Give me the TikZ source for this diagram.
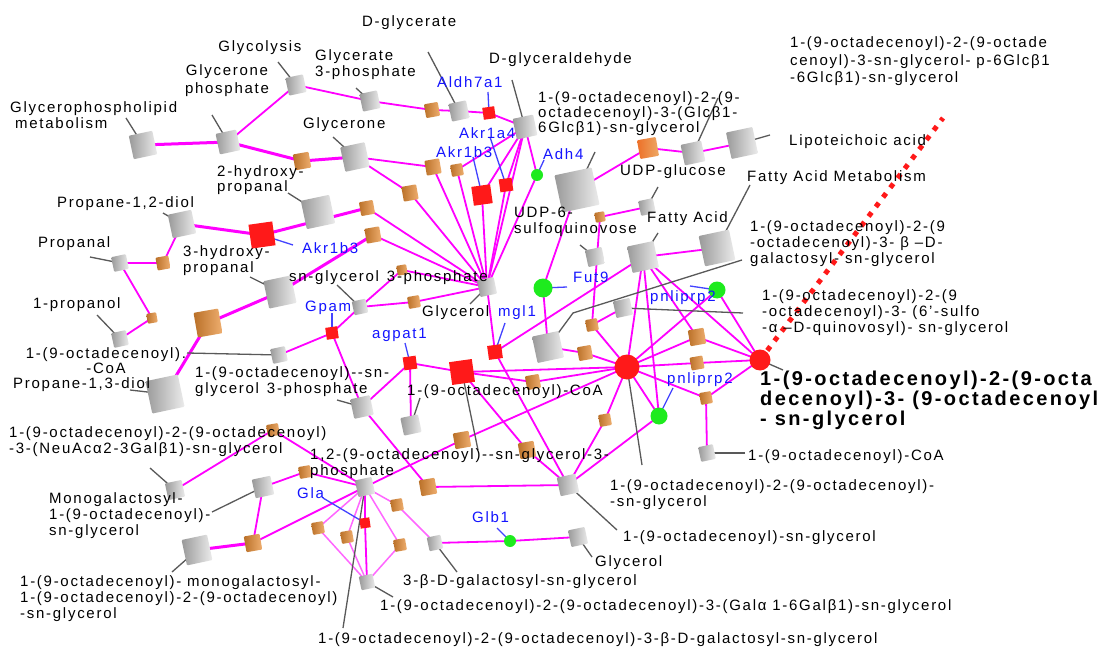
\documentclass[tikz,border=0pt]{standalone}
\usepackage{fontspec}
\setmainfont{Liberation Sans}[LetterSpace=11.5]
\pgfdeclarelayer{bg}
\pgfsetlayers{bg,main}
\definecolor{mag}{RGB}{255,0,255}
\definecolor{orng}{RGB}{232,140,50}
\definecolor{enzred}{RGB}{255,25,25}
\definecolor{enzgreen}{RGB}{30,235,30}
\definecolor{genblue}{RGB}{20,20,255}
\tikzset{
 cmp/.style={rectangle, inner sep=0pt, minimum size=#1pt, rotate=12, left color=gray!80, right color=gray!15, rounded corners=1pt},
 rxn/.style={rectangle, inner sep=0pt, minimum size=#1pt, rotate=10, left color=orng!80!black, right color=orng!70, rounded corners=1pt},
 enzr/.style={rectangle, inner sep=0pt, minimum size=#1pt, fill=enzred, rotate=8},
 enzc/.style={circle, inner sep=0pt, minimum size=#1pt, fill=enzred},
 enzg/.style={circle, inner sep=0pt, minimum size=#1pt, fill=enzgreen},
 lnk/.style={draw=mag, line width=1.8pt},
 lnkT/.style={draw=mag, line width=3pt},
 lnkL/.style={draw=mag!60, line width=1.5pt},
 lead/.style={draw=black!65, line width=1.3pt},
 blead/.style={draw=genblue!80, line width=1.3pt},
 lbl/.style={anchor=west, inner sep=0pt, align=left},
 clbl/.style={anchor=center, inner sep=0pt, align=center},
 blbl/.style={lbl, text=genblue},
 boldlbl/.style={lbl, font=\addfontfeatures{LetterSpace=12}\fontsize{20}{20}\selectfont\bfseries},
}
\begin{document}
\begin{tikzpicture}[x=1pt, y=-1pt, font=\fontsize{15}{16}\selectfont]
\useasboundingbox (0,0) rectangle (1104,650);
% ---------- compounds (gray)
\node[cmp=24] (c1) at (143,145) {};
\node[cmp=21] (c2) at (228,142) {};
\node[cmp=18] (c3) at (296,85) {};
\node[cmp=18] (c4) at (370,101) {};
\node[cmp=18] (c5) at (459,111) {};
\node[cmp=21] (c6) at (525,127) {};
\node[cmp=25] (c7) at (355,157) {};
\node[cmp=29] (c8) at (318,212) {};
\node[cmp=24] (c9) at (182,224) {};
\node[cmp=15] (c10) at (120,263) {};
\node[cmp=15] (c11) at (120,339) {};
\node[cmp=28] (c12) at (280,292) {};
\node[cmp=33] (c13) at (165,394) {};
\node[cmp=15] (c14) at (279,355) {};
\node[cmp=14] (c15) at (360,307) {};
\node[cmp=17] (c16) at (487,287) {};
\node[cmp=20] (c17) at (362,407) {};
\node[cmp=18] (c18) at (411,425) {};
\node[cmp=17] (c19) at (365,487) {};
\node[cmp=14] (c20) at (367,582) {};
\node[cmp=14] (c21) at (435,543) {};
\node[cmp=17] (c22) at (578,537) {};
\node[cmp=19] (c23) at (568,485) {};
\node[cmp=15] (c24) at (707,453) {};
\node[cmp=17] (c26) at (175,490) {};
\node[cmp=19] (c27) at (263,487) {};
\node[cmp=26] (c28) at (197,550) {};
\node[cmp=17] (c29) at (595,257) {};
\node[cmp=27] (c30) at (548,347) {};
\node[cmp=17] (c31) at (623,308) {};
\node[cmp=27] (c32) at (742,143) {};
\node[cmp=21] (c33) at (693,153) {};
\node[cmp=15] (c34) at (647,207) {};
\node[cmp=27] (c35) at (643,257) {};
\node[cmp=31] (c36) at (717,248) {};
\node[cmp=38] (c37) at (577,190) {};
% ---------- reactions (orange)
\node[rxn=16] (o1) at (302,161) {};
\node[rxn=14] (o2) at (432,110) {};
\node[rxn=15] (o3) at (433,167) {};
\node[rxn=12] (o4) at (457,170) {};
\node[rxn=15] (o5) at (410,193) {};
\node[rxn=14] (o6) at (367,208) {};
\node[rxn=15] (o7) at (373,235) {};
\node[rxn=13] (o8) at (163,263) {};
\node[rxn=10] (o9) at (152,318) {};
\node[rxn=25] (o10) at (208,323) {};
\node[rxn=10] (o11) at (402,270) {};
\node[rxn=12] (o12) at (414,302) {};
\node[rxn=14] (o13) at (533,382) {};
\node[rxn=12] (o14) at (592,325) {};
\node[rxn=14] (o15) at (585,353) {};
\node[rxn=16] (o16) at (697,337) {};
\node[rxn=13] (o17) at (697,363) {};
\node[rxn=12] (o18) at (706,398) {};
\node[rxn=12] (o19) at (605,420) {};
\node[rxn=16] (o20) at (462,440) {};
\node[rxn=16] (o21) at (527,450) {};
\node[rxn=16] (o22) at (428,487) {};
\node[rxn=12] (o23) at (397,505) {};
\node[rxn=12] (o24) at (400,545) {};
\node[rxn=12] (o25) at (273,430) {};
\node[rxn=12] (o26) at (305,472) {};
\node[rxn=16] (o27) at (253,543) {};
\node[rxn=12] (o28) at (318,528) {};
\node[rxn=12] (o29) at (347,537) {};
\node[rxn=19, left color=orng!80!red, right color=orng!75] (o35) at (648,148) {};
\node[rxn=10] (o36) at (600,217) {};
% ---------- enzymes
\node[enzr=12] (r1) at (489,113) {};
\node[enzr=19] (r2) at (482,195) {};
\node[enzr=13] (r3) at (506,185) {};
\node[enzr=24] (r4) at (262,235) {};
\node[enzr=12] (r5) at (332,333) {};
\node[enzr=13] (r6) at (410,363) {};
\node[enzr=14] (r7) at (495,352) {};
\node[enzr=23] (r8) at (462,372) {};
\node[enzc=25] (r9) at (627,367) {};
\node[enzr=10] (r10) at (365,523) {};
\node[enzc=21] (r11) at (760,360) {};
\node[enzg=12] (g1) at (537,175) {};
\node[enzg=19] (g2) at (543,288) {};
\node[enzg=17] (g3) at (717,290) {};
\node[enzg=17] (g4) at (659,416) {};
\node[enzg=12] (g5) at (510,541) {};
% ---------- leader start points
\coordinate (k1) at (126,118); \coordinate (k2) at (212,115); \coordinate (k3) at (278,62);
\coordinate (k4) at (356,88); \coordinate (k5) at (428,52); \coordinate (k6) at (512,80);
\coordinate (k7) at (333,137); \coordinate (k8) at (288,193); \coordinate (k9) at (163,213);
\coordinate (k10) at (90,257); \coordinate (k11) at (97,315); \coordinate (k12) at (250,277);
\coordinate (k13) at (130,390); \coordinate (k14) at (187,353); \coordinate (k15) at (337,285);
\coordinate (k16) at (470,304); \coordinate (k17) at (337,400); \coordinate (k18) at (420,398);
\coordinate (k19) at (478,450); \coordinate (k20) at (642,465); \coordinate (k21) at (343,628);
\coordinate (k22) at (393,597); \coordinate (k23) at (457,572); \coordinate (k24) at (592,557);
\coordinate (k25) at (617,530); \coordinate (k26) at (745,453); \coordinate (k27) at (150,468);
\coordinate (k28) at (212,512); \coordinate (k29) at (172,572); \coordinate (k30) at (742,260);
\coordinate (k30b) at (573,313); \coordinate (k31) at (743,313); \coordinate (k32) at (580,245);
\coordinate (k33) at (595,152); \coordinate (k34) at (718,98); \coordinate (k35) at (770,135);
\coordinate (k36) at (750,185); \coordinate (k37) at (658,233); \coordinate (k38) at (658,187);
\coordinate (k39) at (783,370);
\coordinate (b1) at (488,92); \coordinate (b2) at (473,157); \coordinate (b3) at (490,137);
\coordinate (b4) at (544,160); \coordinate (b5) at (293,245); \coordinate (b6) at (332,313);
\coordinate (b7) at (405,343); \coordinate (b8) at (505,323); \coordinate (b9) at (567,287);
\coordinate (b10) at (690,286); \coordinate (b11) at (673,388); \coordinate (b12) at (323,498);
\coordinate (b13) at (497,528);
\coordinate (dotend) at (943,118);
% ---------- connectors
\begin{pgfonlayer}{bg}
\fill[white] (0,0) rectangle (1104,650);
\foreach \a/\b in {c1/c2,c2/o1,o1/c7,c9/r4,r4/o6,c13/o10,o10/c12,c12/o7,o27/c28}
  \draw[lnkT] (\a.center) -- (\b.center);
\foreach \a/\b in {c2/c3,c3/c4,c4/o2,o2/c5,c5/r1,r1/c6,c7/o3,o3/c16,c7/o5,o5/c16,o4/c6,o4/c16,
  c6/r2,r2/c16,c6/r3,r3/c16,c6/g1,g1/c16,c6/c16,o6/c16,o7/c16,c9/o8,o8/c10,c10/o9,o9/c11,
  c14/r5,r5/c15,r5/c17,c15/o11,o11/c16,c15/o12,o12/c16,c16/r7,r7/c35,r7/c23,
  c17/r6,r6/c18,r6/r8,r8/o13,o13/r9,r8/r9,r8/o21,o21/c23,c19/o20,o20/r9,c17/o22,o22/c23,
  c37/g2,g2/c30,c30/o15,o15/r9,c37/o35,o35/c33,c33/c32,o36/c34,o36/o14,o14/c31,o14/r9,
  c35/c36,c35/r9,c35/o16,o16/r11,o16/r9,c35/r11,c35/g4,r9/g3,g3/r11,r9/o17,o17/r11,
  r9/o18,o18/r11,o18/c24,r9/g4,g4/c23,r9/o19,o19/c23,
  c19/o25,o25/c26,c19/o26,o26/c27,c27/o27,o27/c19,c19/r10,r10/c20,c21/g5,g5/c22}
  \draw[lnk] (\a.center) -- (\b.center);
\foreach \a/\b in {c19/o28,o28/c20,c19/o29,o29/c20,c19/o24,o24/c20,c19/o23,o23/c21}
  \draw[lnkL] (\a.center) -- (\b.center);
\foreach \a/\b in {k1/c1,k2/c2,k3/c3,k4/c4,k5/c5,k6/c6,k7/c7,k8/c8,k9/c9,k10/c10,k11/c11,k12/c12,
  k13/c13,k14/c14,k15/c15,k16/c16,k17/c17,k18/c18,k19/r8,k20/r9,k21/c19,k22/c20,k23/c21,
  k24/c22,k25/c23,k26/c24,k27/c26,k28/c27,k29/c28,k31/c31,k32/c29,k33/c37,k34/c33,
  k35/c32,k36/c36,k37/c35,k38/c34,k39/r11}
  \draw[lead] (\a) -- (\b.center);
\draw[lead] (k30) -- (k30b) -- (c30.center);
\foreach \a/\b in {b1/r1,b2/r2,b3/r3,b4/g1,b5/r4,b6/r5,b7/r6,b8/r7,b9/g2,b10/g3,b11/g4,b12/r10,b13/g5}
  \draw[blead] (\a) -- (\b.center);
\end{pgfonlayer}
\draw[enzred, line width=5pt, dash pattern=on 5pt off 7pt] (r11.center) -- (dotend);
% ---------- labels
\node[lbl] (t1) at (10,115) {Glycerophospholipid\\\hspace{5pt}metabolism};
\node[clbl, font=\fontsize{15}{18}\selectfont] (t2) at (227,81) {Glycerone\\phosphate};
\node[clbl] (t3) at (260,48) {Glycolysis};
\node[lbl] (t4) at (315,64.5) {Glycerate\\3-phosphate};
\node[lbl] (t5) at (362,23) {D-glycerate};
\node[lbl] (t6) at (489,60) {D-glyceraldehyde};
\node[lbl] (t7) at (303,125) {Glycerone};
\node[lbl, font=\fontsize{15}{15}\selectfont] (t8) at (217,180.5) {2-hydroxy-\\propanal};
\node[lbl] (t9) at (57,204) {Propane-1,2-diol};
\node[lbl] (t10) at (38,244) {Propanal};
\node[lbl] (t11) at (33,305) {1-propanol};
\node[lbl] (t12) at (183,261) {3-hydroxy-\\propanal};
\node[lbl] (t13) at (13,385) {Propane-1,3-diol};
\node[clbl, font=\fontsize{15}{15}\selectfont] (t14) at (106,361) {1-(9-octadecenoyl).\\-CoA};
\node[lbl] (t15) at (289,278) {sn-glycerol\hspace{8pt}3-phosphate};
\node[lbl] (t16) at (422,313) {Glycerol};
\node[lbl] (t17) at (195,381.5) {1-(9-octadecenoyl)-{}-sn-\\glycerol\hspace{8pt}3-phosphate};
\node[lbl] (t18) at (407,392) {1-(9-octadecenoyl)-CoA};
\node[lbl] (t19) at (310,463.5) {1,2-(9-octadecenoyl)-{}-sn-glycerol-3-\\phosphate};
\node[lbl] (t20) at (9,441.5) {1-(9-octadecenoyl)-2-(9-octadecenoyl)\\-3-(NeuAcα2-3Galβ1)-sn-glycerol};
\node[lbl] (t21) at (49,516) {Monogalactosyl-\\1-(9-octadecenoyl)-\\sn-glycerol};
\node[lbl] (t22) at (20,598.5) {1-(9-octadecenoyl)- monogalactosyl-\\1-(9-octadecenoyl)-2-(9-octadecenoyl)\\-sn-glycerol};
\node[lbl] (t23) at (318,640) {1-(9-octadecenoyl)-2-(9-octadecenoyl)-3-β-D-galactosyl-sn-glycerol};
\node[lbl] (t24) at (380,607) {1-(9-octadecenoyl)-2-(9-octadecenoyl)-3-(Galα 1-6Galβ1)-sn-glycerol};
\node[lbl] (t25) at (403,582) {3-β-D-galactosyl-sn-glycerol};
\node[lbl] (t26) at (595,563) {Glycerol};
\node[lbl] (t27) at (623,538) {1-(9-octadecenoyl)-sn-glycerol};
\node[lbl] (t28) at (610,494.5) {1-(9-octadecenoyl)-2-(9-octadecenoyl)-\\-sn-glycerol};
\node[lbl] (t29) at (748,457) {1-(9-octadecenoyl)-CoA};
\node[boldlbl] (t30) at (760,400) {1-(9-octadecenoyl)-2-(9-octa\\decenoyl)-3- (9-octadecenoyl\\- sn-glycerol};
\node[lbl] (t31) at (762,312.5) {1-(9-octadecenoyl)-2-(9\\-octadecenoyl)-3- (6'-sulfo\\-α –D-quinovosyl)- sn-glycerol};
\node[lbl] (t32) at (750,244) {1-(9-octadecenoyl)-2-(9\\-octadecenoyl)-3- β –D-\\galactosyl- sn-glycerol};
\node[lbl] (t33) at (647,219) {Fatty Acid};
\node[lbl] (t34) at (747,178) {Fatty Acid Metabolism};
\node[lbl] (t35) at (789,142) {Lipoteichoic acid};
\node[lbl] (t36) at (620,172) {UDP-glucose};
\node[lbl] (t37) at (514,221.5) {UDP-6-\\sulfoquinovose};
\node[lbl, font=\fontsize{15}{15}\selectfont] (t38) at (538,114) {1-(9-octadecenoyl)-2-(9-\\octadecenoyl)-3-(Glcβ1-\\6Glcβ1)-sn-glycerol};
\node[lbl, font=\fontsize{15}{17.5}\selectfont] (t39) at (790,61.5) {1-(9-octadecenoyl)-2-(9-octade\\cenoyl)-3-sn-glycerol- p-6Glcβ1\\-6Glcβ1)-sn-glycerol};
% gene labels
\node[blbl] (n1) at (437,82) {Aldh7a1};
\node[blbl] (n2) at (459,133) {Akr1a4};
\node[blbl] (n3) at (436,152) {Akr1b3};
\node[blbl] (n4) at (543,154) {Adh4};
\node[blbl] (n5) at (302,248) {Akr1b3};
\node[blbl] (n6) at (305,308) {Gpam};
\node[blbl] (n7) at (372,335) {agpat1};
\node[blbl] (n8) at (498,313) {mgl1};
\node[blbl] (n9) at (573,277) {Fut9};
\node[blbl] (n10) at (650,298) {pnliprp2};
\node[blbl] (n11) at (667,380) {pnliprp2};
\node[blbl] (n12) at (297,493) {Gla};
\node[blbl] (n13) at (472,517) {Glb1};
\end{tikzpicture}
\end{document}
